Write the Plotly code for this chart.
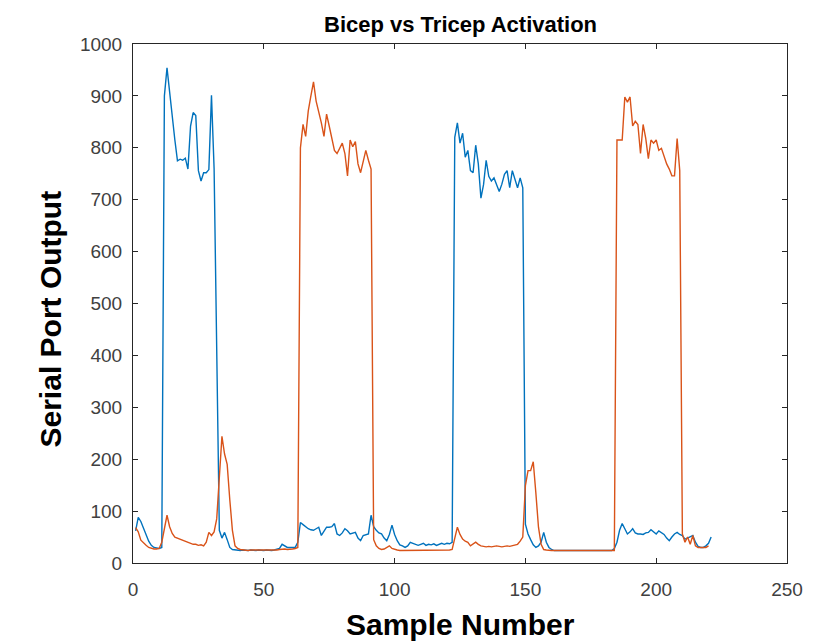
import plotly.graph_objects as go

title_text = "Bicep vs Tricep Activation"
x_title = "Sample Number"
y_title = "Serial Port Output"

bicep = [
    62, 88, 80, 66, 56, 42, 34, 30, 29, 28, 30,
    900, 954, 905, 855, 815, 775, 778, 776, 780,
    759, 842, 868, 862, 756, 736, 752, 752, 758, 901,
    760, 410, 63, 48, 59, 45, 30, 26, 25, 25,
    24, 25, 24, 24, 25, 24, 24, 25, 24, 24,
    25, 24, 24, 25, 26, 28, 36, 33, 30, 30,
    30, 30, 40, 78, 74, 70, 66, 64, 63, 66,
    69, 53, 62, 69, 69, 70, 76, 56, 53, 58,
    66, 62, 56, 58, 59, 48, 43, 53, 54, 56,
    92, 70, 63, 58, 56, 48, 43, 55, 73, 55,
    43, 35, 33, 30, 33, 40, 38, 36, 34, 36,
    38, 34, 36, 35, 37, 34, 36, 38, 36, 38,
    37, 40, 820, 848, 809, 828, 782, 795, 756, 752,
    805, 769, 703, 729, 776, 745, 736, 742, 729, 716,
    730, 749, 756, 723, 756, 740, 723, 742, 723, 75,
    56, 45, 35, 30, 33, 40, 59, 40, 30, 26,
    24, 24, 24, 24, 24, 24, 24, 24, 24, 24,
    24, 24, 24, 24, 24, 24, 24, 24, 24, 24,
    24, 24, 24, 28, 40, 63, 76, 66, 56, 60,
    66, 58, 56, 56, 55, 58, 59, 64, 60, 56,
    62, 58, 55, 48, 43, 50, 56, 59, 55, 53,
    46, 48, 50, 53, 40, 32, 30, 30, 33, 38, 50,
]

tricep = [
    68, 60, 44, 38, 34, 30, 28, 27, 27, 28,
    40, 70, 92, 70, 57, 50, 48, 45, 43, 42,
    40, 38, 36, 36, 34, 35, 33, 40, 59, 53,
    60, 85, 175, 244, 210, 190, 122, 63, 33, 28,
    26, 25, 25, 24, 25, 25, 24, 25, 25, 24,
    25, 25, 24, 25, 25, 26, 27, 27, 26, 26,
    27, 28, 30, 800, 845, 822, 871, 900, 927, 890,
    870, 848, 822, 865, 842, 820, 795, 789, 800, 809,
    789, 746, 815, 802, 812, 769, 752, 772, 795, 776,
    759, 45, 33, 28, 26, 27, 30, 33, 28, 26,
    25, 24, 24, 25, 24, 24, 25, 24, 24, 25,
    24, 24, 25, 24, 24, 25, 24, 24, 25, 24,
    25, 26, 46, 69, 55, 46, 42, 40, 33, 36,
    40, 36, 33, 32, 31, 32, 31, 32, 33, 32,
    31, 32, 33, 32, 33, 34, 36, 42, 50, 149,
    178, 178, 195, 135, 69, 36, 26, 25, 24, 24,
    24, 24, 24, 24, 24, 24, 24, 24, 24, 24,
    24, 24, 24, 24, 24, 24, 24, 24, 24, 24,
    24, 24, 24, 24, 815, 815, 815, 898, 888, 898,
    842, 851, 845, 789, 845, 818, 779, 815, 809, 815,
    795, 799, 782, 769, 759, 746, 746, 818, 756, 56,
    40, 50, 36, 53, 33, 30, 30, 30, 30, 33,
]

x_ticks = [0, 50, 100, 150, 200, 250]
y_ticks = [0, 100, 200, 300, 400, 500, 600, 700, 800, 900, 1000]

xb = list(range(1, len(bicep) + 1))
xt = list(range(1, len(tricep) + 1))

fig = go.Figure()
fig.add_trace(go.Scatter(x=xb, y=bicep, mode="lines",
                         line=dict(color="#0072BD", width=1.4), name="Bicep"))
fig.add_trace(go.Scatter(x=xt, y=tricep, mode="lines",
                         line=dict(color="#D95319", width=1.4), name="Tricep"))

axis_common = dict(
    showgrid=False, zeroline=False, showline=True, linecolor="#262626",
    linewidth=1, mirror="ticks", ticks="inside", ticklen=5, tickwidth=1,
    tickcolor="#262626", tickfont=dict(family="Liberation Sans", size=19, color="#404040"),
)

fig.update_xaxes(range=[0, 250], tickvals=x_ticks, ticklabelstandoff=9, **axis_common)
fig.update_yaxes(range=[0, 1000], tickvals=y_ticks, ticklabelstandoff=6, **axis_common)

fig.update_layout(
    width=808, height=634,
    margin=dict(l=124.5, r=29.3, t=36, b=78.5),
    plot_bgcolor="white", paper_bgcolor="white",
    showlegend=False,
    annotations=[
        dict(text=f"<b>{title_text}</b>", xref="paper", yref="paper", x=0.5, y=1,
             yshift=20, xanchor="center", yanchor="middle", showarrow=False,
             font=dict(family="Liberation Sans", size=22, color="#000000")),
        dict(text=f"<b>{x_title}</b>", xref="paper", yref="paper", x=0.5, y=0,
             yshift=-61, xanchor="center", yanchor="middle", showarrow=False,
             font=dict(family="Liberation Sans", size=30, color="#000000")),
        dict(text=f"<b>{y_title}</b>", xref="paper", yref="paper", x=0, y=0.5,
             xshift=-83, yshift=-16, xanchor="center", yanchor="middle", showarrow=False,
             textangle=-90,
             font=dict(family="Liberation Sans", size=30, color="#000000")),
    ],
)

fig.write_html("out.html")
